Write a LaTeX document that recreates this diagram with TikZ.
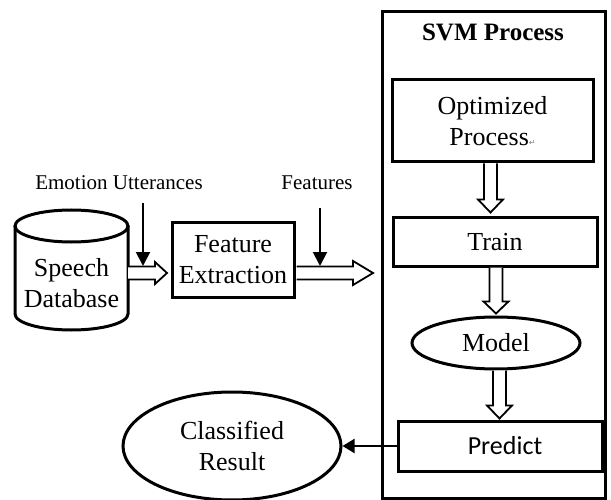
\documentclass[tikz,border=0pt]{standalone}
\usepackage{fontspec}
\setmainfont{Liberation Serif}
\newfontfamily\calfont{Carlito}
\newfontfamily\symfont{DejaVu Sans}
\usetikzlibrary{calc,arrows.meta,shapes.geometric}
\newcommand\hollowright[5]{\draw[hollow] let \p1=(#1),\p2=(#2) in (\x1,\y1+#3pt) -- (\x2-#5pt,\y1+#3pt) -- (\x2-#5pt,\y1+#4pt) -- (\x2,\y1) -- (\x2-#5pt,\y1-#4pt) -- (\x2-#5pt,\y1-#3pt) -- (\x1,\y1-#3pt);}
\newcommand\hollowdown[5]{\draw[hollow] let \p1=(#1),\p2=(#2) in (\x1+#3pt,\y1) -- (\x1+#3pt,\y2+#5pt) -- (\x1+#4pt,\y2+#5pt) -- (\x1,\y2) -- (\x1-#4pt,\y2+#5pt) -- (\x1-#3pt,\y2+#5pt) -- (\x1-#3pt,\y1);}
\begin{document}
\begin{tikzpicture}[x=1pt,y=-1pt,
 box/.style={draw,line width=3pt,inner sep=0pt},
 txt/.style={font=\fontsize{26}{31}\selectfont,align=center},
 lbl/.style={font=\fontsize{21}{24}\selectfont},
 hollow/.style={draw,line width=1.8pt,fill=white,line join=miter},
 pointer/.style={line width=2pt,-{Triangle[length=14pt,width=14pt]}},
 resarrow/.style={line width=2pt,-{Triangle[length=12pt,width=14pt]}}]
\useasboundingbox (0,0) rectangle (611,500);
% outer SVM box
\node[box,minimum width=223pt,minimum height=487pt,anchor=north west] (svm) at (381,10) {};
\node[font=\bfseries\fontsize{25}{30}\selectfont] (title) at (493,32) {SVM Process};
\node[box,txt,minimum width=201pt,minimum height=82pt] (opt) at (492.5,121) {Optimized\\Process{\color{gray}\symfont\fontsize{8}{8}\selectfont ↵}};
\node[box,txt,minimum width=204pt,minimum height=48pt] (train) at (495,242) {Train};
\node[draw,line width=3pt,ellipse,inner sep=0pt,minimum width=168pt,minimum height=52pt,txt] (model) at (496,343) {Model};
\node[box,minimum width=204pt,minimum height=50pt,font=\calfont\fontsize{26}{30}\selectfont,text width=204pt,align=center] (pred) at (500,446) {\hspace*{10pt}Predict};
\node[draw,line width=3pt,ellipse,inner sep=0pt,minimum width=218pt,minimum height=108pt,txt] (cls) at (232,446) {Classified\\Result};
% left part
\draw[line width=3pt] (15,226) -- (15,314) arc(180:0:56.5 and 16) -- (128,226);
\draw[line width=3pt] (71.5,226) ellipse (56.5 and 16);
\node[txt] (db) at (71.5,283) {Speech\\Database};
\node[box,txt,minimum width=122pt,minimum height=74pt] (fe) at (233,260) {Feature\\Extraction};
\node[lbl] (emo) at (119,183) {Emotion Utterances};
\node[lbl] (feat) at (317,183) {Features};
% hollow arrows
\coordinate (h1s) at (128,273);
\coordinate (h1e) at (167,273);
\coordinate (h2s) at ($(fe.east|-h1s)+(1,0)$);
\coordinate (h2e) at (373,273);
\hollowright{h1s}{h1e}{6.5}{11}{12}
\hollowright{h2s}{h2e}{6.5}{12}{20}
\coordinate (v1s) at ([xshift=-2pt]opt.south);
\coordinate (v1e) at ($(v1s|-train.north)+(0,-4)$);
\coordinate (v2s) at ([xshift=1pt]train.south);
\coordinate (v2e) at ($(v2s|-model.north)+(0,-2)$);
\coordinate (v3s) at ([xshift=3.5pt]model.south);
\coordinate (v3e) at ($(v3s|-pred.north)+(0,-1)$);
\hollowdown{v1s}{v1e}{6.5}{12.5}{13}
\hollowdown{v2s}{v2e}{6.5}{12.5}{12}
\hollowdown{v3s}{v3e}{6.5}{12.5}{13}
% pointers
\coordinate (p1s) at (143,203);
\coordinate (p1e) at (143,266);
\coordinate (p2s) at (320,208);
\coordinate (p2e) at (320,266);
\draw[pointer] (p1s) -- (p1e);
\draw[pointer] (p2s) -- (p2e);
\draw[resarrow] (pred.west) -- (cls.east);
\end{tikzpicture}
\end{document}
